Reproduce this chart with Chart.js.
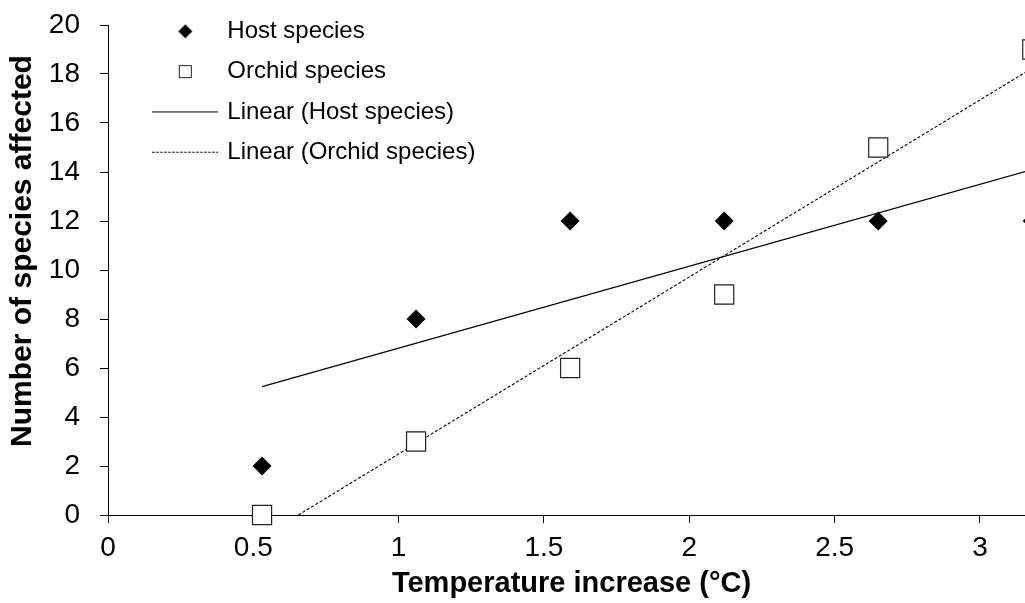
<!DOCTYPE html>
<html>
<head>
<meta charset="utf-8">
<script src="https://cdn.jsdelivr.net/npm/chart.js@4.4.1/dist/chart.umd.min.js"></script>
<style>
  html, body { margin: 0; padding: 0; background: #ffffff; overflow: hidden; }
  #wrap { width: 1025px; height: 603px; }
</style>
</head>
<body>
<div id="wrap"><canvas id="c" width="1025" height="603"></canvas></div>
<script>
// ---- data ----
const temperatureIncrease = [0.53, 1.06, 1.59, 2.12, 2.65, 3.18];
const hostSpecies = [2, 8, 12, 12, 12, 12];
const orchidSpecies = [0, 3, 6, 9, 15, 19];
// trend-line end points
const hostTrendX = [0.53, 3.18];
const hostTrendY = [5.24, 14.1];
const orchidTrendX = [0.655, 3.18];
const orchidTrendY = [0, 18.24];
// axes
const xTickStep = 0.5;
const yTickStep = 2;
const yMin = 0, yMax = 20;
const seriesNames = ['Host species', 'Orchid species', 'Linear (Host species)', 'Linear (Orchid species)'];
const xTitle = 'Temperature increase (°C)';
const yTitle = 'Number of species affected';

const FONT = '"Liberation Sans", Arial, Helvetica, sans-serif';

function toPoints(xs, ys) { return xs.map((x, i) => ({ x: x, y: ys[i] })); }

// legend symbols
function makeSymbol(w, h, draw) {
  const c = document.createElement('canvas');
  c.width = w; c.height = h;
  draw(c.getContext('2d'), w, h);
  return c;
}
const symDiamond = makeSymbol(15, 15, (g, w, h) => {
  g.fillStyle = '#000';
  g.beginPath(); g.moveTo(w / 2, 0.5); g.lineTo(w - 0.5, h / 2); g.lineTo(w / 2, h - 0.5); g.lineTo(0.5, h / 2); g.closePath(); g.fill();
});
const symSquare = makeSymbol(15, 15, (g, w, h) => {
  g.fillStyle = '#fff'; g.fillRect(1, 1, 13, 13);
  g.strokeStyle = '#222'; g.lineWidth = 1; g.strokeRect(1.5, 1.5, 12, 12);
});
const symSolid = makeSymbol(66, 3, (g, w, h) => {
  g.strokeStyle = '#000'; g.lineWidth = 1.2; g.beginPath(); g.moveTo(0, 1.5); g.lineTo(w, 1.5); g.stroke();
});
const symDash = makeSymbol(66, 3, (g, w, h) => {
  g.strokeStyle = '#000'; g.lineWidth = 1; g.setLineDash([2.5, 1.5]); g.beginPath(); g.moveTo(0, 1.5); g.lineTo(w, 1.5); g.stroke();
});
const legendSymbols = [symDiamond, symSquare, symSolid, symDash];

// place the legend in the upper-left of the plot, and nudge the axis titles
const layoutTweaks = {
  id: 'layoutTweaks',
  afterLayout(chart) {
    const lg = chart.legend;
    if (lg) {
      const w = lg.width;
      lg.left = 139; lg.top = 3;
      lg.right = lg.left + w;
      lg.height = 220;
      lg.bottom = lg.top + 220;
    }
    const shifts = { x: [5, 1], y: [0, -19] };
    Object.keys(shifts).forEach((id) => {
      const s = chart.scales[id];
      if (s && !s._titleWrapped) {
        const orig = s.drawTitle;
        s.drawTitle = function () {
          const ctx = this.ctx;
          ctx.save();
          ctx.translate(shifts[id][0], shifts[id][1]);
          orig.call(this);
          ctx.restore();
        };
        s._titleWrapped = true;
      }
    });
  }
};

const tickFmt = (v) => String(Math.round(v * 10) / 10);

new Chart(document.getElementById('c'), {
  type: 'scatter',
  data: {
    datasets: [
      {
        label: seriesNames[0],
        data: toPoints(temperatureIncrease, hostSpecies),
        pointStyle: 'rectRot',
        pointRadius: 9.5,
        pointHoverRadius: 9.5,
        backgroundColor: '#000',
        borderColor: '#000',
        borderWidth: 0,
        clip: false
      },
      {
        label: seriesNames[1],
        data: toPoints(temperatureIncrease, orchidSpecies),
        pointStyle: 'rect',
        pointRadius: 13.5,
        pointHoverRadius: 13.5,
        backgroundColor: '#fff',
        borderColor: '#222',
        borderWidth: 1.2,
        clip: false
      },
      {
        label: seriesNames[2],
        data: toPoints(hostTrendX, hostTrendY),
        showLine: true,
        pointRadius: 0,
        borderColor: '#000',
        borderWidth: 1.2,
        backgroundColor: '#000',
        clip: false
      },
      {
        label: seriesNames[3],
        data: toPoints(orchidTrendX, orchidTrendY),
        showLine: true,
        pointRadius: 0,
        borderColor: '#000',
        borderWidth: 1.1,
        borderDash: [3, 2],
        backgroundColor: '#000',
        clip: false
      }
    ]
  },
  options: {
    responsive: false,
    animation: false,
    devicePixelRatio: 1,
    layout: { autoPadding: false, padding: { top: 25, right: 0, bottom: 0, left: 0 } },
    plugins: {
      tooltip: { enabled: false },
      legend: {
        position: 'chartArea',
        align: 'start',
        labels: {
          usePointStyle: true,
          pointStyleWidth: 60,
          padding: 16.3,
          color: '#000',
          font: { family: FONT, size: 24 },
          generateLabels(chart) {
            const items = Chart.defaults.plugins.legend.labels.generateLabels(chart);
            items.forEach((it, i) => { it.pointStyle = legendSymbols[i]; it.rotation = 0; });
            return items;
          }
        }
      }
    },
    scales: {
      x: {
        type: 'linear',
        min: 0,
        max: 3.155,
        afterFit(s) { s.height = 88; s.paddingRight = 0; s.paddingLeft = 0; },
        ticks: {
          stepSize: xTickStep,
          includeBounds: false,
          color: '#000',
          padding: 8,
          maxRotation: 0,
          callback: tickFmt,
          font: { family: FONT, size: 28 }
        },
        grid: { drawOnChartArea: false, drawTicks: true, tickLength: 8, color: '#000', lineWidth: 1 },
        border: { display: true, color: '#000', width: 1 },
        title: {
          display: true,
          text: xTitle,
          color: '#000',
          font: { family: FONT, size: 29, weight: 'bold' },
          padding: { top: 0, bottom: 3 }
        }
      },
      y: {
        type: 'linear',
        min: yMin,
        max: yMax,
        afterFit(s) { s.width = 108; s.paddingTop = 0; s.paddingBottom = 0; },
        ticks: {
          stepSize: yTickStep,
          color: '#000',
          padding: 20,
          callback: tickFmt,
          font: { family: FONT, size: 28 }
        },
        grid: { drawOnChartArea: false, drawTicks: true, tickLength: 8, color: '#000', lineWidth: 1 },
        border: { display: true, color: '#000', width: 1 },
        title: {
          display: true,
          text: yTitle,
          color: '#000',
          font: { family: FONT, size: 30, weight: 'bold' },
          padding: { top: 5, bottom: 0 }
        }
      }
    }
  },
  plugins: [layoutTweaks]
});
</script>
</body>
</html>
